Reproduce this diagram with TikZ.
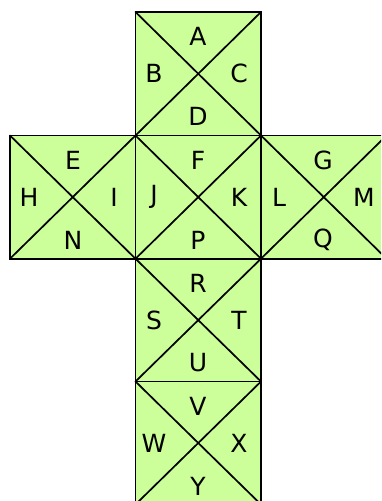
\documentclass[tikz,border=0pt]{standalone}
\usepackage{fontspec}
\setmainfont{DejaVu Sans}
\definecolor{netgreen}{RGB}{204,255,153}
\begin{document}
\begin{tikzpicture}[x=1pt,y=-1pt,
  face/.style={fill=netgreen,draw=none},
  edge/.style={draw=black,line width=1.7pt,line cap=round},
  lbl/.style={font=\fontsize{25}{30}\selectfont,inner sep=0pt,anchor=center}]
\useasboundingbox (0,0) rectangle (381,501);
\begin{scope}
\clip (0,0) rectangle (381,501);
% fill faces
\foreach \n/\xa/\ya/\xb/\yb in {top/135.5/12/261/135.5, lft/10/135.5/135.5/258.7, ctr/135.5/135.5/261/258.7, rgt/261/135.5/386.5/258.7, bot/135.5/258.7/261/381.5, low/135.5/381.5/261/504.5}{
  \path[face] (\xa,\ya) rectangle (\xb,\yb);
  \coordinate (\n-nw) at (\xa,\ya);
  \coordinate (\n-ne) at (\xb,\ya);
  \coordinate (\n-sw) at (\xa,\yb);
  \coordinate (\n-se) at (\xb,\yb);
}
% edges and diagonals
\foreach \n in {top,lft,ctr,rgt,bot,low}{
  \draw[edge] (\n-nw) -- (\n-ne) -- (\n-se) -- (\n-sw) -- cycle;
  \draw[edge] (\n-nw) -- (\n-se);
  \draw[edge] (\n-ne) -- (\n-sw);
}
\end{scope}
% labels
\foreach \cx/\cy/\t/\l/\r/\b in {198/73.5/A/B/C/D, 73/197/E/H/I/N, 198/197/F/J/K/P, 323/197/G/L/M/Q, 198/320/R/S/T/U, 198/443/V/W/X/Y}{
  \node[lbl] at (\cx,\cy-37) {\t};
  \node[lbl] at (\cx-44,\cy) {\l};
  \node[lbl] at (\cx+41,\cy) {\r};
  \node[lbl] at (\cx,\cy+43) {\b};
}
\end{tikzpicture}
\end{document}
